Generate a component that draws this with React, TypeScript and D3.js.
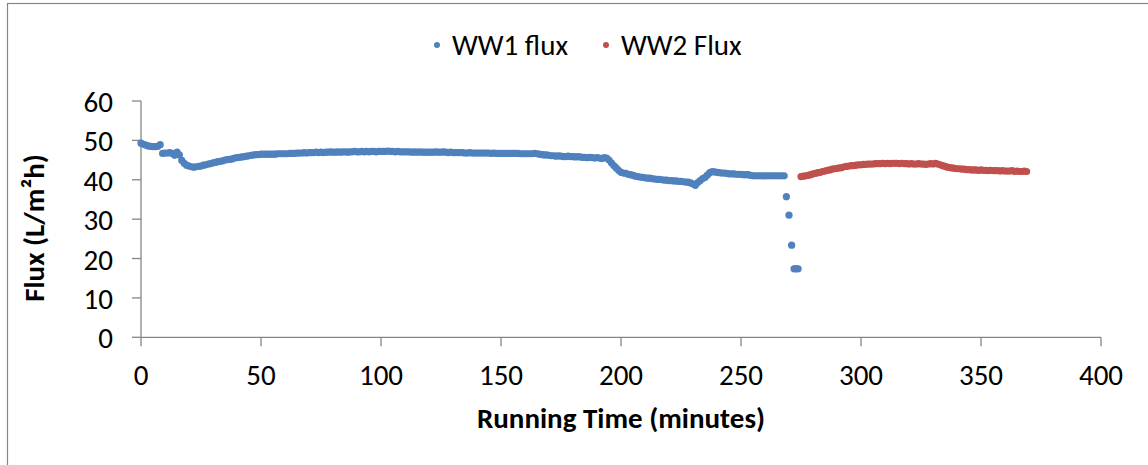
import React from 'react';
import * as d3 from 'd3';

// WW1 flux, one reading per minute from t = 0 to 268 min (L/m²h)
const ww1Start = 0;
const ww1Flux = [
  49.3, 49.0, 48.8, 48.6, 48.5, 48.4, 48.4, 48.5, 48.9, 46.7,
  46.8, 46.8, 46.9, 46.7, 46.2, 47.0, 46.3, 44.9, 44.2, 43.7,
  43.5, 43.3, 43.2, 43.3, 43.4, 43.5, 43.7, 43.8, 44.0, 44.1,
  44.3, 44.4, 44.6, 44.7, 44.8, 45.0, 45.1, 45.2, 45.3, 45.5,
  45.6, 45.7, 45.8, 45.9, 46.0, 46.1, 46.2, 46.3, 46.4, 46.4,
  46.5, 46.5, 46.5, 46.5, 46.5, 46.5, 46.5, 46.6, 46.6, 46.6,
  46.6, 46.6, 46.7, 46.7, 46.7, 46.8, 46.8, 46.8, 46.9, 46.8,
  46.9, 46.9, 46.9, 47.0, 46.9, 47.0, 46.9, 47.0, 47.0, 47.1,
  47.0, 47.0, 47.1, 47.0, 47.1, 47.1, 47.0, 47.1, 47.1, 47.2,
  47.1, 47.1, 47.2, 47.1, 47.2, 47.1, 47.2, 47.2, 47.1, 47.2,
  47.2, 47.2, 47.2, 47.3, 47.2, 47.2, 47.1, 47.2, 47.1, 47.1,
  47.1, 47.1, 47.1, 47.0, 47.1, 47.0, 47.1, 47.0, 47.0, 47.0,
  47.0, 47.0, 47.0, 47.1, 47.0, 47.0, 47.1, 47.0, 46.9, 47.0,
  46.9, 46.9, 46.9, 46.9, 46.9, 46.8, 46.8, 46.9, 46.8, 46.8,
  46.8, 46.8, 46.8, 46.8, 46.8, 46.8, 46.7, 46.8, 46.7, 46.7,
  46.7, 46.7, 46.7, 46.7, 46.7, 46.7, 46.7, 46.7, 46.6, 46.6,
  46.6, 46.6, 46.6, 46.6, 46.7, 46.6, 46.5, 46.4, 46.3, 46.3,
  46.2, 46.1, 46.1, 46.0, 46.1, 46.0, 45.9, 45.9, 46.0, 45.9,
  45.9, 45.8, 45.9, 45.8, 45.7, 45.7, 45.6, 45.7, 45.6, 45.5,
  45.6, 45.5, 45.4, 45.6, 45.5, 45.0, 44.3, 43.6, 43.0, 42.4,
  41.9, 41.7, 41.6, 41.4, 41.3, 41.1, 40.9, 40.8, 40.7, 40.6,
  40.5, 40.4, 40.4, 40.3, 40.2, 40.1, 40.1, 40.0, 39.9, 39.9,
  39.8, 39.8, 39.7, 39.7, 39.6, 39.6, 39.5, 39.4, 39.4, 39.2,
  38.9, 38.6, 39.3, 39.8, 40.3, 40.6, 41.2, 41.8, 42.1, 42.0,
  41.9, 41.8, 41.7, 41.7, 41.6, 41.5, 41.5, 41.5, 41.4, 41.4,
  41.4, 41.3, 41.3, 41.3, 41.1, 41.0, 41.0, 41.0, 41.0, 41.0,
  41.0, 41.0, 41.0, 41.0, 41.0, 41.0, 41.0, 41.0, 41.0,
];

// the sudden drop at the end of the WW1 run
const ww1DropTimes = [268.9, 270.0, 271.1, 272.1, 272.7, 273.2, 273.8];
const ww1DropFlux = [35.7, 31.0, 23.4, 17.4, 17.4, 17.4, 17.4];

// WW2 flux, one reading per minute from t = 275 to 369 min
const ww2Start = 275;
const ww2Flux = [
  40.8, 40.9, 41.0, 41.1, 41.3, 41.5, 41.6, 41.8, 41.9, 42.1,
  42.2, 42.4, 42.5, 42.7, 42.8, 42.9, 43.0, 43.1, 43.3, 43.4,
  43.5, 43.6, 43.6, 43.7, 43.8, 43.8, 43.9, 43.9, 44.0, 44.0,
  44.0, 44.1, 44.1, 44.1, 44.2, 44.1, 44.2, 44.1, 44.2, 44.2,
  44.2, 44.1, 44.2, 44.1, 44.1, 44.0, 44.1, 44.0, 44.0, 44.1,
  44.0, 44.0, 43.9, 44.0, 44.1, 44.0, 44.2, 44.0, 43.8, 43.6,
  43.4, 43.2, 43.1, 43.0, 42.9, 42.8, 42.8, 42.7, 42.7, 42.6,
  42.6, 42.5, 42.5, 42.5, 42.4, 42.5, 42.4, 42.4, 42.3, 42.4,
  42.3, 42.3, 42.3, 42.2, 42.3, 42.2, 42.2, 42.2, 42.3, 42.1,
  42.2, 42.1, 42.1, 42.2, 42.1,
];

const xTicks = [0, 50, 100, 150, 200, 250, 300, 350, 400];
const yTicks = [0, 10, 20, 30, 40, 50, 60];
const seriesNames = ['WW1 flux', 'WW2 Flux'];
const seriesColors = ['#4F81BD', '#C0504D'];

const W = 1148;
const H = 465;
const FONT = 'Carlito, Calibri, Lato, sans-serif';
const AXIS = '#868686';
const FS = 29;

type Pt = { t: number; v: number };

const App: React.FC = () => {
  const x = d3.scaleLinear().domain([0, 400]).range([141, 1101]);
  const y = d3.scaleLinear().domain([0, 60]).range([337.3, 101]);

  const ww1: Pt[] = ww1Flux
    .map((v, i) => ({ t: ww1Start + i, v }))
    .concat(ww1DropTimes.map((t, i) => ({ t, v: ww1DropFlux[i] })));
  const ww2: Pt[] = ww2Flux.map((v, i) => ({ t: ww2Start + i, v }));
  const series = [ww1, ww2];

  return (
    <svg
      width={W}
      height={H}
      style={{ position: 'absolute', left: 0, top: 0, background: '#fff' }}
      fontFamily={FONT}
    >
      <rect x={7.5} y={3.5} width={W} height={H} fill="#fff" stroke={AXIS} strokeWidth={1.2} />

      {/* legend */}
      {seriesNames.map((name, i) => {
        const lx = i === 0 ? 437 : 606;
        return (
          <g key={name}>
            <circle cx={lx} cy={45} r={3} fill={seriesColors[i]} />
            <text x={lx + 15} y={55} fontSize={FS} fill="#000">
              {name}
            </text>
          </g>
        );
      })}

      {/* axes */}
      <line x1={x(0)} x2={x(0)} y1={y(60)} y2={y(0)} stroke={AXIS} strokeWidth={1.3} />
      <line x1={x(0)} x2={x(400)} y1={y(0)} y2={y(0)} stroke={AXIS} strokeWidth={1.3} />
      {yTicks.map((t) => (
        <g key={'y' + t}>
          <line x1={x(0) - 9} x2={x(0)} y1={y(t)} y2={y(t)} stroke={AXIS} strokeWidth={1.3} />
          <text x={113} y={y(t) + 11} textAnchor="end" fontSize={FS} fill="#000">
            {t}
          </text>
        </g>
      ))}
      {xTicks.map((t) => (
        <g key={'x' + t}>
          <line x1={x(t)} x2={x(t)} y1={y(0)} y2={y(0) + 9} stroke={AXIS} strokeWidth={1.3} />
          <text x={x(t)} y={385} textAnchor="middle" fontSize={FS} fill="#000">
            {t}
          </text>
        </g>
      ))}

      {/* axis titles */}
      <text x={621} y={428} textAnchor="middle" fontSize={FS} fontWeight="bold" fill="#000">
        Running Time (minutes)
      </text>
      <text
        transform="translate(44,228) rotate(-90)"
        textAnchor="middle"
        fontSize={FS}
        fontWeight="bold"
        fill="#000"
      >
        Flux (L/m²h)
      </text>

      {/* data points */}
      {series.map((pts, si) => (
        <g key={'s' + si} fill={seriesColors[si]}>
          {pts.map((p, i) => (
            <circle key={i} cx={x(p.t)} cy={y(p.v)} r={3.6} />
          ))}
        </g>
      ))}
    </svg>
  );
};

export default App;
